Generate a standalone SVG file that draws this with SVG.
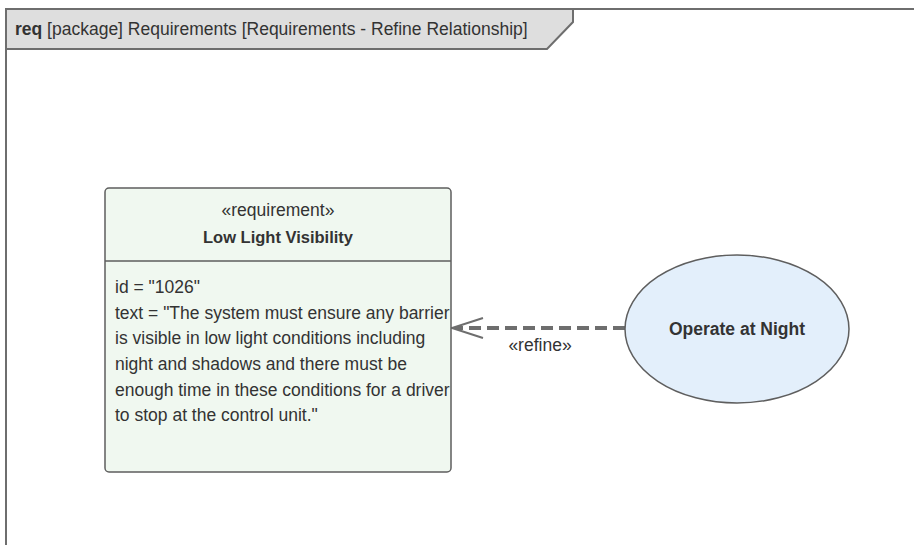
<svg xmlns="http://www.w3.org/2000/svg" width="914" height="545" viewBox="0 0 914 545">
<style>
text{font-family:"Liberation Sans",Arial,sans-serif;fill:#333333}
.t{font-size:17.5px}
.b{font-weight:bold}
.nb{font-size:16.5px;font-weight:bold}
</style>
<rect width="914" height="545" fill="#ffffff"/>
<g id="frame">
<path d="M6,49 L547,49 L573,22 L573,9 L6,9 Z" fill="#dedede" stroke="none"/>
<path d="M6,545 L6,9 L914,9" fill="none" stroke="#6e6e6e" stroke-width="2"/>
<path d="M573,9 L573,22 L547,49 L6,49" fill="none" stroke="#6e6e6e" stroke-width="2"/>
<text x="15" y="35" class="t"><tspan class="b">req</tspan> [package] Requirements [Requirements - Refine Relationship]</text>
</g>
<g id="connectors">
<line x1="625" y1="328" x2="455" y2="328" stroke="#6e6e6e" stroke-width="4" stroke-dasharray="12,6"/>
<path d="M483,318 L452,328 L483,338" fill="none" stroke="#6e6e6e" stroke-width="2"/>
<text x="540" y="351" class="t" text-anchor="middle">«refine»</text>
</g>
<g id="req-low-light-visibility">
<rect x="105" y="188" width="346" height="284" rx="4" fill="#f0f8f0" stroke="#5e5e5e" stroke-width="1.5"/>
<line x1="105" y1="261" x2="451" y2="261" stroke="#5e5e5e" stroke-width="1.5"/>
<text x="278" y="216" class="t" text-anchor="middle">«requirement»</text>
<text x="278" y="243" class="nb" text-anchor="middle">Low Light Visibility</text>
<text x="115" y="293" class="t">id = "1026"</text>
<text x="115" y="319" class="t">text = "The system must ensure any barrier</text>
<text x="115" y="344" class="t">is visible in low light conditions including</text>
<text x="115" y="370" class="t">night and shadows and there must be</text>
<text x="115" y="396" class="t">enough time in these conditions for a driver</text>
<text x="115" y="421" class="t">to stop at the control unit."</text>
</g>
<g id="uc-operate-at-night">
<ellipse cx="737" cy="329" rx="112" ry="74" fill="#e3effb" stroke="#5e5e5e" stroke-width="1.5"/>
<text x="737" y="335" class="t b" text-anchor="middle">Operate at Night</text>
</g>
</svg>
